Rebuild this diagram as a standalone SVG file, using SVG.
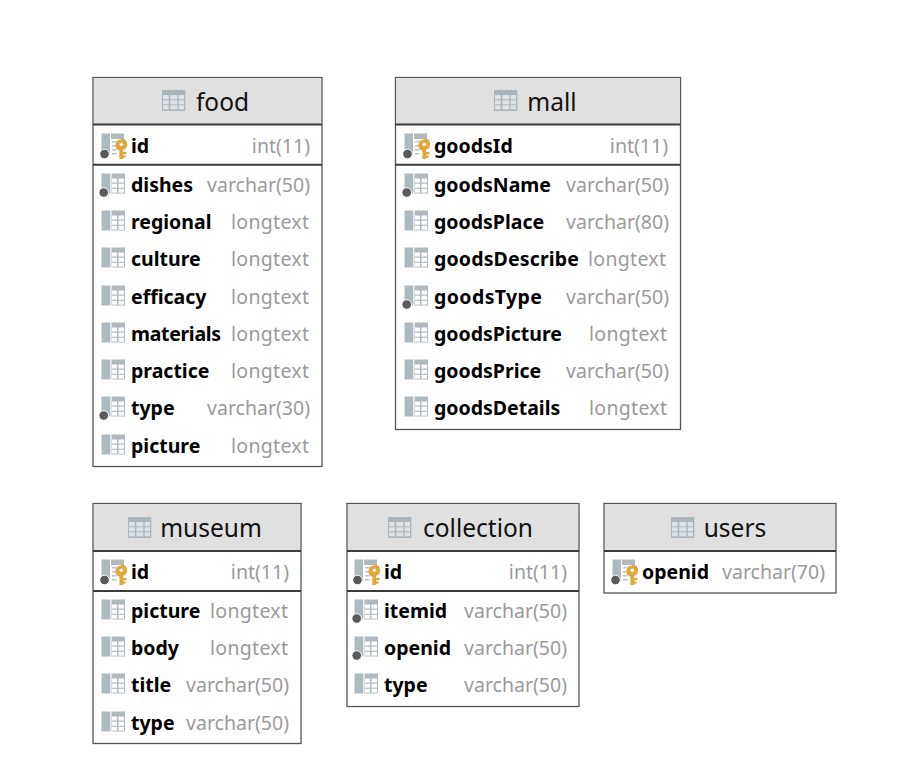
<svg xmlns="http://www.w3.org/2000/svg" width="911" height="771" viewBox="0 0 911 771">
<style>
.box{fill:#fff;stroke:#555;stroke-width:1.3}
.head{fill:#e0e0e0}
.sep{stroke:#3c3c3c;stroke-width:2;fill:none}
.title{font:24.500px "Noto Sans","Open Sans",sans-serif;fill:#111;text-anchor:middle}
.name{font:bold 19.500px "Noto Sans","Open Sans",sans-serif;fill:#000}
.type{font:19.500px "Noto Sans","Open Sans",sans-serif;fill:#9a9a9a;text-anchor:end}
</style>
<defs>
<g id="tbl"><rect x="0" y="-1" width="23.300" height="21" fill="#aab5bc"/><g fill="#dfe3e6"><rect x="1" y="4" width="5.700" height="4.300"/><rect x="8.300" y="4" width="7" height="4.300"/><rect x="16.700" y="4" width="5.300" height="4.300"/><rect x="1" y="9.300" width="5.700" height="4"/><rect x="8.300" y="9.300" width="7" height="4"/><rect x="16.700" y="9.300" width="5.300" height="4"/><rect x="1" y="14.300" width="5.700" height="4"/><rect x="8.300" y="14.300" width="7" height="4"/><rect x="16.700" y="14.300" width="5.300" height="4"/></g></g>
<g id="col"><rect x="-0.500" y="-0.500" width="8.800" height="20" fill="#aeb9c0"/><rect x="9.500" y="-0.500" width="13.500" height="20" fill="#aeb9c0"/><g fill="#fff"><rect x="10" y="4.500" width="5" height="4"/><rect x="16.500" y="4.500" width="5.500" height="4"/><rect x="10" y="9.700" width="5" height="4"/><rect x="16.500" y="9.700" width="5.500" height="4"/><rect x="10" y="14.800" width="5" height="3.800"/><rect x="16.500" y="14.800" width="5.500" height="3.800"/></g></g>
<circle id="dot" cx="3.700" cy="19.500" r="4.800" fill="#5a5a5a" stroke="#fff" stroke-width="1"/>
<g id="pk"><rect x="0.500" y="-1.500" width="8.500" height="21.500" fill="#aeb9c0"/><rect x="10" y="-1.500" width="13" height="5.500" fill="#aeb9c0"/><g fill="#b9c3c9"><rect x="11" y="6" width="4.500" height="1.500"/><rect x="11" y="10" width="4.500" height="1.500"/><rect x="11" y="14" width="4.500" height="1.500"/><rect x="11" y="18" width="4.500" height="1.500"/></g><circle cx="3.500" cy="19" r="4.800" fill="#5a5a5a" stroke="#fff" stroke-width="1"/><path d="M20.300 3.500a5.800 5.800 0 0 1 1.900 11.300v2.200h3.300v2.300h-3.300v1.200h2.300v2.300h-2.300v1.200h-3.800v-8.200a5.800 5.800 0 0 1 1.900-11.300z" fill="#e2a63b"/><circle cx="20.300" cy="9.300" r="1.800" fill="#fff"/></g>
</defs>

<g id="food">
<rect class="box" x="93" y="77.500" width="229" height="389"/>
<rect class="head" x="94" y="78" width="227" height="46"/>
<path class="sep" d="M93 124.500H322M93 164.800H322"/>
<use href="#tbl" x="162" y="91"/><text class="title" x="222.500" y="111">food</text>
<use href="#pk" x="101" y="135"/><text class="name" x="131" y="153">id</text><text class="type" x="310" y="153">int(11)</text>
<use href="#col" x="102" y="174"/><use href="#dot" x="100" y="173"/><text class="name" x="131" y="192">dishes</text><text class="type" x="310" y="192">varchar(50)</text>
<use href="#col" x="102" y="211"/><text class="name" x="131" y="229">regional</text><text class="type" x="309" y="229" textLength="78">longtext</text>
<use href="#col" x="102" y="248"/><text class="name" x="131" y="266">culture</text><text class="type" x="309" y="266" textLength="78">longtext</text>
<use href="#col" x="102" y="286"/><text class="name" x="131" y="304">efficacy</text><text class="type" x="309" y="304" textLength="78">longtext</text>
<use href="#col" x="102" y="323"/><text class="name" x="131" y="341" textLength="90">materials</text><text class="type" x="309" y="341" textLength="78">longtext</text>
<use href="#col" x="102" y="360"/><text class="name" x="131" y="378">practice</text><text class="type" x="309" y="378" textLength="78">longtext</text>
<use href="#col" x="102" y="397"/><use href="#dot" x="100" y="396"/><text class="name" x="131" y="415">type</text><text class="type" x="310" y="415">varchar(30)</text>
<use href="#col" x="102" y="435"/><text class="name" x="131" y="453">picture</text><text class="type" x="309" y="453" textLength="78">longtext</text>
</g>

<g id="mall">
<rect class="box" x="395.500" y="77.500" width="285" height="352"/>
<rect class="head" x="396" y="78" width="284" height="46"/>
<path class="sep" d="M395 124.500H680M395 164.800H680"/>
<use href="#tbl" x="494" y="91"/><text class="title" x="552" y="111">mall</text>
<use href="#pk" x="404" y="135"/><text class="name" x="434" y="153">goodsId</text><text class="type" x="668" y="153">int(11)</text>
<use href="#col" x="405" y="174"/><use href="#dot" x="403" y="173"/><text class="name" x="434" y="192">goodsName</text><text class="type" x="669" y="192">varchar(50)</text>
<use href="#col" x="405" y="211"/><text class="name" x="434" y="229">goodsPlace</text><text class="type" x="669" y="229">varchar(80)</text>
<use href="#col" x="405" y="248"/><text class="name" x="434" y="266" textLength="145">goodsDescribe</text><text class="type" x="666" y="266" textLength="78">longtext</text>
<use href="#col" x="405" y="286"/><use href="#dot" x="403" y="285"/><text class="name" x="434" y="304" textLength="108">goodsType</text><text class="type" x="669" y="304">varchar(50)</text>
<use href="#col" x="405" y="323"/><text class="name" x="434" y="341">goodsPicture</text><text class="type" x="667" y="341" textLength="78">longtext</text>
<use href="#col" x="405" y="360"/><text class="name" x="434" y="378">goodsPrice</text><text class="type" x="669" y="378">varchar(50)</text>
<use href="#col" x="405" y="397"/><text class="name" x="434" y="415">goodsDetails</text><text class="type" x="667" y="415" textLength="78">longtext</text>
</g>

<g id="museum">
<rect class="box" x="93" y="503.500" width="208" height="240"/>
<rect class="head" x="94" y="504" width="206" height="47"/>
<path class="sep" d="M93 551H301M93 591H301"/>
<use href="#tbl" x="128" y="518"/><text class="title" x="211" y="537">museum</text>
<use href="#pk" x="101" y="561"/><text class="name" x="131" y="579">id</text><text class="type" x="289" y="579">int(11)</text>
<use href="#col" x="102" y="600"/><text class="name" x="131" y="618">picture</text><text class="type" x="288" y="618" textLength="78">longtext</text>
<use href="#col" x="102" y="637"/><text class="name" x="131" y="655">body</text><text class="type" x="288" y="655" textLength="78">longtext</text>
<use href="#col" x="102" y="674"/><text class="name" x="131" y="692">title</text><text class="type" x="289" y="692">varchar(50)</text>
<use href="#col" x="102" y="712"/><text class="name" x="131" y="730">type</text><text class="type" x="289" y="730">varchar(50)</text>
</g>

<g id="collection">
<rect class="box" x="347" y="503.500" width="232" height="203"/>
<rect class="head" x="348" y="504" width="230" height="47"/>
<path class="sep" d="M347 551H579M347 591H579"/>
<use href="#tbl" x="388" y="518"/><text class="title" x="478" y="537">collection</text>
<use href="#pk" x="354" y="561"/><text class="name" x="384" y="579">id</text><text class="type" x="567" y="579">int(11)</text>
<use href="#col" x="355" y="600"/><use href="#dot" x="353" y="599"/><text class="name" x="384" y="618">itemid</text><text class="type" x="567" y="618">varchar(50)</text>
<use href="#col" x="355" y="637"/><use href="#dot" x="353" y="636"/><text class="name" x="384" y="655">openid</text><text class="type" x="567" y="655">varchar(50)</text>
<use href="#col" x="355" y="674"/><text class="name" x="384" y="692">type</text><text class="type" x="567" y="692">varchar(50)</text>
</g>

<g id="users">
<rect class="box" x="604" y="503.500" width="232" height="89.500"/>
<rect class="head" x="605" y="504" width="230" height="47"/>
<path class="sep" d="M604 551H836"/>
<use href="#tbl" x="671" y="518"/><text class="title" x="735" y="537">users</text>
<use href="#pk" x="612" y="561"/><text class="name" x="642" y="579">openid</text><text class="type" x="825" y="579">varchar(70)</text>
</g>

<g id="connectors"></g>
</svg>
